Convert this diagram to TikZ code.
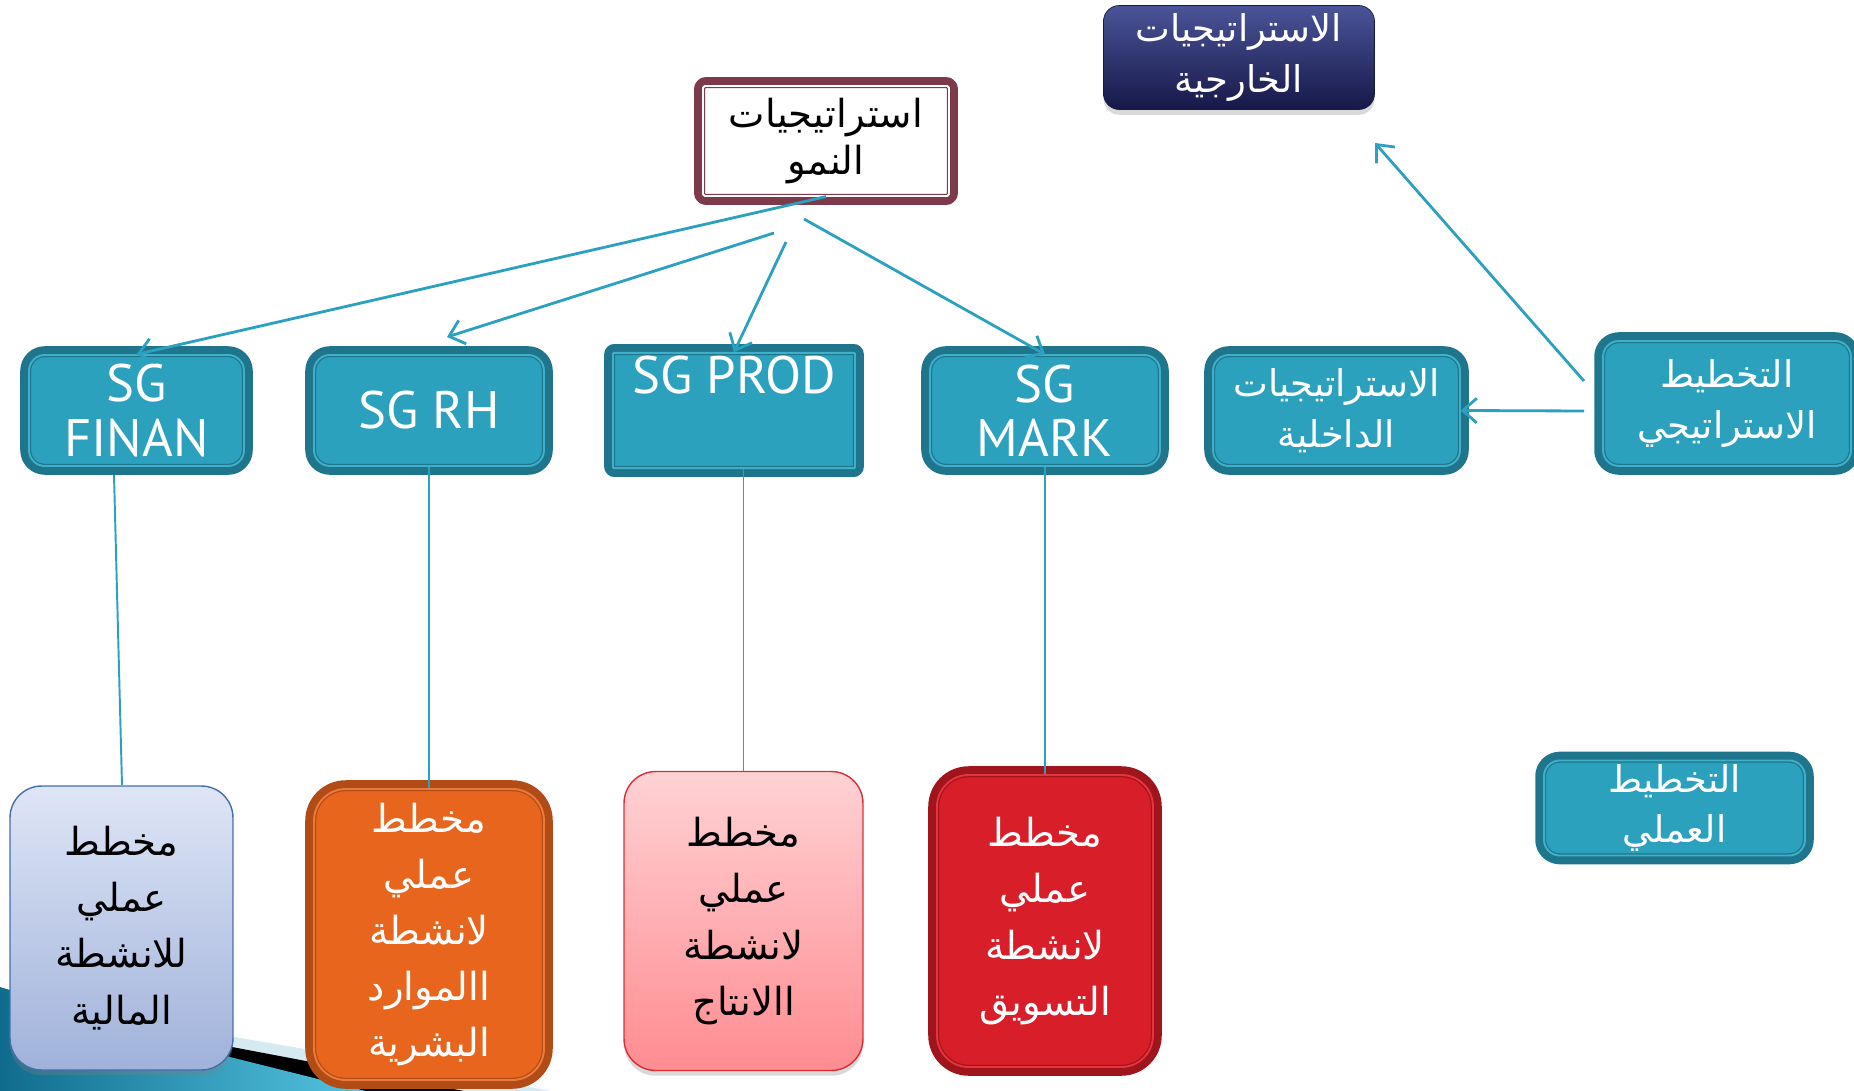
\documentclass[tikz,border=0pt]{standalone}
\usepackage{fontspec}
\newfontfamily\arabicfont[Script=Arabic]{DejaVu Sans}
\newfontfamily\latinfont{PT Sans}
\TeXXeTstate=1
\usetikzlibrary{arrows.meta, shadows}
\usepackage{xcolor}
\definecolor{azul}{RGB}{44, 160, 192}
\definecolor{tealfill}{RGB}{44, 161, 190}
\definecolor{tealescuro}{RGB}{31, 118, 140}
\definecolor{tealclaro}{RGB}{62, 176, 202}
\definecolor{vinho}{RGB}{125, 58, 75}
\definecolor{navyA}{RGB}{74, 84, 152}
\definecolor{navyB}{RGB}{22, 24, 72}
\definecolor{lilasA}{RGB}{222, 229, 246}
\definecolor{lilasB}{RGB}{160, 178, 218}
\definecolor{lilasBorda}{RGB}{70, 110, 170}
\definecolor{laranja}{RGB}{232, 101, 30}
\definecolor{laranjaEsc}{RGB}{178, 76, 22}
\definecolor{laranjaClaro}{RGB}{236, 122, 58}
\definecolor{rosaA}{RGB}{255, 210, 212}
\definecolor{rosaB}{RGB}{255, 140, 145}
\definecolor{rosaBorda}{RGB}{220, 45, 55}
\definecolor{vermelho}{RGB}{216, 30, 40}
\definecolor{vermelhoEsc}{RGB}{160, 20, 28}
\definecolor{vermelhoClaro}{RGB}{228, 52, 62}
\definecolor{fundoClaro}{RGB}{214, 234, 242}
\definecolor{fundoA}{RGB}{16, 108, 140}
\definecolor{fundoB}{RGB}{84, 196, 226}
\newcommand{\artxt}[1]{\beginR #1\endR}
\tikzset{
  caixa/.style={align=center, inner sep=2pt},
  moldura/.style 2 args={
    draw=#1, line width=0.7pt, double=#2, double distance=1.1pt,
    preaction={draw=#1, line width=10pt, line join=round}
  },
  caixaSG/.style={
    caixa, moldura={tealescuro}{tealclaro}, fill=tealfill, rounded corners=9pt,
    text=white, font=\latinfont\fontsize{30}{31}\selectfont
  },
  caixaAR/.style={caixaSG, font=\arabicfont\fontsize{21}{29}\selectfont},
  plano/.style={caixa, rounded corners=18pt, font=\arabicfont\fontsize{22}{32}\selectfont},
  sombra/.style={drop shadow={shadow xshift=0pt, shadow yshift=-3pt, opacity=.3}},
  seta/.style={-{Straight Barb[length=8pt,width=14pt]}, line width=1.6pt, azul},
  linha/.style={line width=1.1pt, azul},
}
\begin{document}
\begin{tikzpicture}[x=0.02cm, y=-0.02cm]
\useasboundingbox (0,0) rectangle (1854,1091);

% fundo do slide
\fill[fundoClaro] (0,997) -- (551,1091) -- (0,1091) -- cycle;
\fill[black] (0,1003) -- (464,1091) -- (0,1091) -- cycle;
\shade[left color=fundoA, right color=fundoB] (0,987) -- (230,1057) -- (366,1091) -- (0,1091) -- cycle;

% estrategias
\node[caixa, moldura={vinho}{white}, fill=white, rounded corners=1pt,
      minimum width=4.92cm, minimum height=2.20cm,
      font=\arabicfont\fontsize{22}{27}\selectfont] (growth) at (826,141)
{\artxt{استراتيجيات}\\\artxt{النمو}};

\node[caixa, sombra, top color=navyA, bottom color=navyB, draw=navyB, rounded corners=9pt,
      minimum width=5.42cm, minimum height=2.08cm, text=white,
      font=\arabicfont\fontsize{21}{29}\selectfont] (external) at (1239,57.5)
{\artxt{الاستراتيجيات}\\\artxt{الخارجية}};

% strategies gerais
\node[caixaSG, minimum width=4.30cm, minimum height=2.22cm] (finan) at (136.5,410.5) {SG\\FINAN};
\node[caixaSG, minimum width=4.60cm, minimum height=2.22cm] (rh) at (429,410.5) {SG RH};
\node[caixaSG, rounded corners=0.5pt, minimum width=4.84cm, minimum height=2.22cm] (prod) at (734,410.5) {SG PROD\\\strut};
\node[caixaSG, minimum width=4.60cm, minimum height=2.22cm] (mark) at (1045,410.5) {SG\\MARK};

\node[caixaAR, minimum width=4.94cm, minimum height=2.22cm] (internal) at (1336.5,410.5)
{\artxt{الاستراتيجيات}\\\artxt{الداخلية}};
\node[caixaAR, minimum width=4.96cm, minimum height=2.50cm] (strategic) at (1727,403.5)
{\artxt{التخطيط}\\\artxt{الاستراتيجي}};
\node[caixaAR, minimum width=5.22cm, minimum height=1.88cm] (operational) at (1674.5,808)
{\artxt{التخطيط}\\\artxt{العملي}};

% planos operacionais
\node[plano, sombra, top color=lilasA, bottom color=lilasB, draw=lilasBorda, line width=0.8pt,
      minimum width=4.46cm, minimum height=5.68cm] (pfinan) at (121.5,928)
{\artxt{مخطط}\\\artxt{عملي}\\\artxt{للانشطة}\\\artxt{المالية}};
\node[plano, moldura={laranjaEsc}{laranjaClaro}, fill=laranja, text=white,
      minimum width=4.60cm, minimum height=5.82cm] (prh) at (429,934.5)
{\artxt{مخطط}\\\artxt{عملي}\\\artxt{لانشطة}\\\artxt{االموارد}\\\artxt{البشرية}};
\node[plano, sombra, top color=rosaA, bottom color=rosaB, draw=rosaBorda, line width=0.8pt,
      minimum width=4.78cm, minimum height=5.98cm] (pprod) at (743.5,921)
{\artxt{مخطط}\\\artxt{عملي}\\\artxt{لانشطة}\\\artxt{االانتاج}};
\node[plano, moldura={vermelhoEsc}{vermelhoClaro}, fill=vermelho, text=white,
      minimum width=4.32cm, minimum height=5.84cm] (pmark) at (1045,921)
{\artxt{مخطط}\\\artxt{عملي}\\\artxt{لانشطة}\\\artxt{التسويق}};

% pontas livres
\coordinate (c1) at (774,233);
\coordinate (c2) at (786,242);
\coordinate (c3) at (804,219);
\coordinate (rhtip) at (447,337);
\coordinate (s1) at (1584,381);
\coordinate (s2) at (1584,411);
\coordinate (exttip) at (1375,143);
\coordinate (f1) at (114,475);
\coordinate (f2) at (122,785);

\draw[seta] (growth.south) -- (finan.north);
\draw[seta] (c1) -- (rhtip);
\draw[seta] (c2) -- (prod.north);
\draw[seta] (c3) -- (mark.north);
\draw[seta] (s1) -- (exttip);
\draw[seta] (s2) -- (internal.east);

\draw[linha] (f1) -- (f2);
\draw[linha] (rh.south) -- (prh.north);
\draw[linha] (pprod.north |- prod.south) -- (pprod.north);
\draw[linha] (mark.south) -- (pmark.north);

\end{tikzpicture}
\end{document}
